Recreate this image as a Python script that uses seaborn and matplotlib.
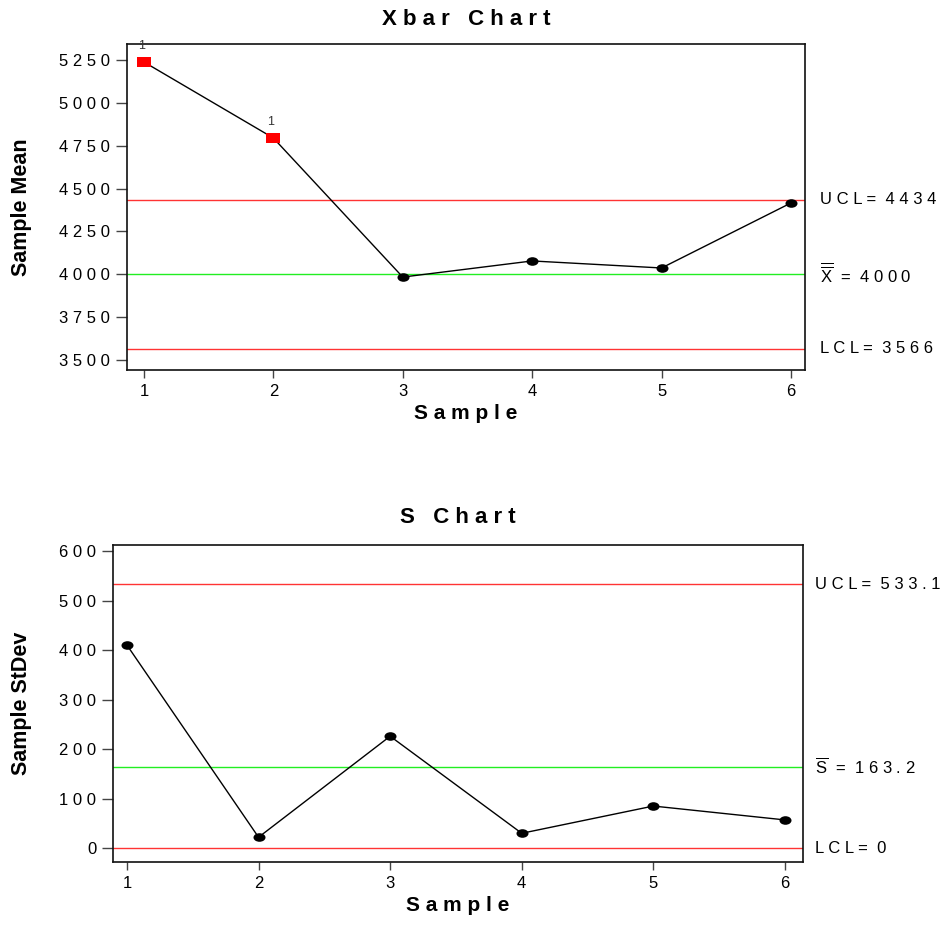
import numpy as np
import pandas as pd
import matplotlib
matplotlib.use("Agg")
import matplotlib.pyplot as plt
from matplotlib.path import Path
from matplotlib.transforms import Affine2D, blended_transform_factory
import seaborn as sns

# ---- data ----
samples = [1, 2, 3, 4, 5, 6]
xbar_means = [5238, 4795, 3984, 4078, 4037, 4416]
xbar_ucl, xbar_center, xbar_lcl = 4434, 4000, 3566
xbar_flags = [True, True, False, False, False, False]
xbar_yticks = [3500, 3750, 4000, 4250, 4500, 4750, 5000, 5250]

s_values = [410, 22, 226, 30, 85, 57]
s_ucl, s_center, s_lcl = 533.1, 163.2, 0
s_yticks = [0, 100, 200, 300, 400, 500, 600]

xbar_labels = ["U C L =  4 4 3 4", r"$\overline{\overline{\mathrm{X}}}$  =  4 0 0 0", "L C L =  3 5 6 6"]
s_labels = ["U C L =  5 3 3 . 1", r"$\overline{\mathrm{S}}$  =  1 6 3 . 2", "L C L =  0"]

sns.set_theme(style="ticks")
plt.rcParams["font.family"] = ["Liberation Sans", "DejaVu Sans"]
plt.rcParams["mathtext.fontset"] = "custom"
plt.rcParams["mathtext.rm"] = "Liberation Sans"
for k in ["text.color", "axes.labelcolor", "xtick.labelcolor", "ytick.labelcolor"]:
    plt.rcParams[k] = "black"

fig = plt.figure(figsize=(9.44, 9.26), dpi=100)
ax1 = fig.add_axes([0.1345, 0.6004, 0.7182, 0.3521])
ax2 = fig.add_axes([0.1197, 0.0691, 0.7309, 0.3423])

ell = Path.unit_circle().transformed(Affine2D().scale(1.4, 1.0))
rect = Path([(-1.5, -1), (1.5, -1), (1.5, 1), (-1.5, 1), (-1.5, -1)],
            [Path.MOVETO, Path.LINETO, Path.LINETO, Path.LINETO, Path.CLOSEPOLY])

def spaced(v):
    return " ".join(str(v))

def style_axes(ax, yticks):
    for sp in ax.spines.values():
        sp.set_visible(True)
        sp.set_color("#111111")
        sp.set_linewidth(1.2)
    ax.set_xticks(samples)
    ax.set_xticklabels([str(s) for s in samples], fontsize=12)
    ax.set_yticks(yticks)
    ax.set_yticklabels([spaced(t) for t in yticks], fontsize=12)
    ax.tick_params(axis="y", length=8, width=1, color="#444444", pad=4)
    ax.tick_params(axis="x", length=6, width=1, color="#444444", pad=4)
    ax.set_xlabel("S a m p l e", fontsize=15, fontweight="bold", labelpad=4)

# ---- Xbar chart ----
df1 = pd.DataFrame({"Sample": samples, "Mean": xbar_means, "Flag": xbar_flags})
ax1.axhline(xbar_ucl, color="#ff3333", lw=1)
ax1.axhline(xbar_lcl, color="#ff3333", lw=1)
ax1.axhline(xbar_center, color="#22ee22", lw=1)
sns.lineplot(data=df1, x="Sample", y="Mean", ax=ax1, color="black", lw=1)
sns.scatterplot(data=df1[~df1.Flag], x="Sample", y="Mean", ax=ax1, color="black",
                marker=ell, s=75, linewidth=0, zorder=5)
sns.scatterplot(data=df1[df1.Flag], x="Sample", y="Mean", ax=ax1, color="#ff0000",
                marker=rect, s=95, linewidth=0, zorder=5)
for x, y, f in zip(samples, xbar_means, xbar_flags):
    if f:
        ax1.annotate("1", (x, y), xytext=(-2, 7), textcoords="offset points",
                     ha="center", va="bottom", fontsize=9, color="#333333")
ax1.set_xlim(0.869, 6.108)
ax1.set_ylim(3442, 5343)
style_axes(ax1, xbar_yticks)
ax1.set_ylabel("Sample Mean", fontsize=15.5, fontweight="bold")
ax1.yaxis.set_label_coords(-0.14, 0.5)
ax1.set_title("X b a r   C h a r t", fontsize=16, fontweight="bold", pad=14)
tr1 = blended_transform_factory(ax1.transAxes, ax1.transData)
for val, lab in zip([xbar_ucl, xbar_center, xbar_lcl], xbar_labels):
    ax1.text(1.022, val, lab, transform=tr1, va="center", ha="left", fontsize=12)

# ---- S chart ----
df2 = pd.DataFrame({"Sample": samples, "StDev": s_values})
ax2.axhline(s_ucl, color="#ff3333", lw=1)
ax2.axhline(s_lcl, color="#ff3333", lw=1)
ax2.axhline(s_center, color="#22ee22", lw=1)
sns.lineplot(data=df2, x="Sample", y="StDev", ax=ax2, color="black", lw=1)
sns.scatterplot(data=df2, x="Sample", y="StDev", ax=ax2, color="black",
                marker=ell, s=75, linewidth=0, zorder=5)
ax2.set_xlim(0.894, 6.137)
ax2.set_ylim(-28, 612)
style_axes(ax2, s_yticks)
ax2.set_ylabel("Sample StDev", fontsize=15.5, fontweight="bold")
ax2.yaxis.set_label_coords(-0.118, 0.5)
ax2.set_title("S   C h a r t", fontsize=16, fontweight="bold", pad=16)
tr2 = blended_transform_factory(ax2.transAxes, ax2.transData)
for val, lab in zip([s_ucl, s_center, s_lcl], s_labels):
    ax2.text(1.017, val, lab, transform=tr2, va="center", ha="left", fontsize=12)

fig.savefig("out.png", dpi=100)
